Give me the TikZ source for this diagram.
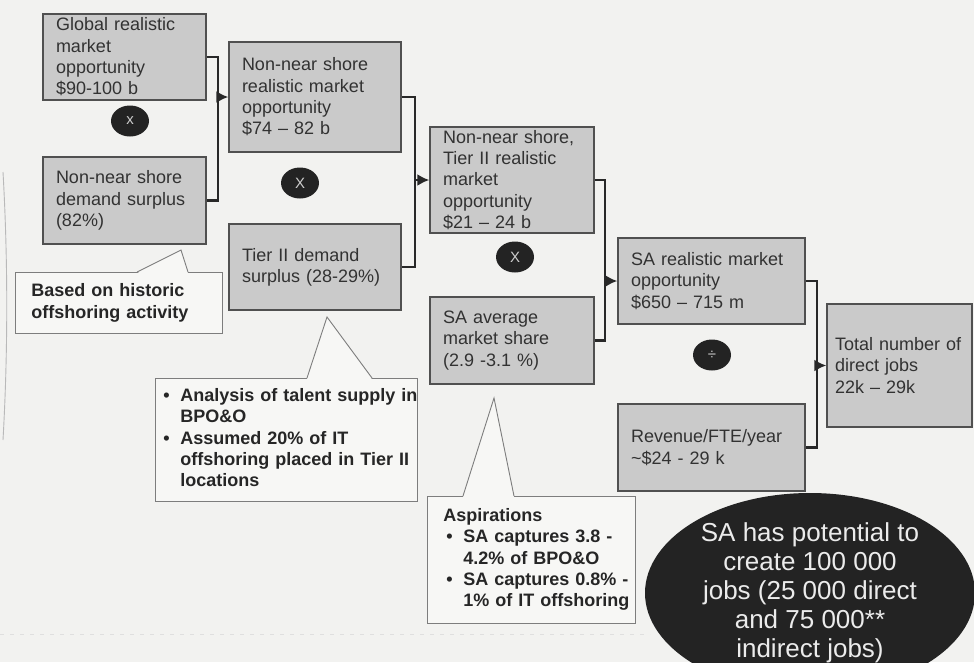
\documentclass[tikz,border=0pt]{standalone}
\usepackage{fontspec}
\setmainfont{Liberation Sans}
\usetikzlibrary{arrows.meta,shapes.geometric}
\definecolor{bgcol}{RGB}{242,242,240}
\definecolor{boxfill}{RGB}{202,202,202}
\definecolor{boxline}{RGB}{80,80,80}
\definecolor{linkcol}{RGB}{40,40,40}
\definecolor{boxtext}{RGB}{50,50,50}
\definecolor{notefill}{RGB}{247,247,245}
\definecolor{noteline}{RGB}{125,125,125}
\definecolor{opfill}{RGB}{35,35,35}

\begin{document}
\begin{tikzpicture}[x=1pt,y=-1pt]
			\tikzset{box/.style={rectangle, draw=boxline, line width=1.3pt, fill=boxfill, text=boxtext, align=left, inner xsep=13pt, inner ysep=0pt, font=\fontsize{18}{21.3}\selectfont}};
			\tikzset{note/.style={rectangle, draw=noteline, line width=0.9pt, fill=notefill, text=black!85, align=left, inner ysep=0pt, font=\bfseries\fontsize{18}{21.3}\selectfont}};
			\tikzset{noteedge/.style={draw=noteline, line width=0.9pt}};
			\tikzset{op/.style={ellipse, fill=opfill, text=white!80!black, minimum width=38pt, minimum height=31pt, inner sep=0pt, font=\fontsize{15}{15}\selectfont}};
			\tikzset{bubble/.style={ellipse, fill=opfill, text=white!92!black, minimum width=330pt, minimum height=200pt, inner sep=0pt, align=center, font=\fontsize{26}{29}\selectfont}};
			\tikzset{link/.style={draw=linkcol, line width=2.6pt}};
			\tikzset{arr/.style={link, -{Latex[length=12pt,width=12pt]}}};

			\useasboundingbox (0,0) rectangle (974,662);
			\fill[bgcol] (0,0) rectangle (974,662);
			\draw[gray!55, line width=0.9pt] (3,172) .. controls (8,260) and (8,352) .. (3,440);
			\draw[gray!25, line width=0.8pt, dash pattern=on 4pt off 6pt] (0,634) -- (650,634);

			\node[box, text width=137pt, minimum height=86pt] (glob) at (124.5,57) {Global realistic\\market\\opportunity\\\$90-100 b};
			\node[box, text width=137pt, minimum height=87pt] (nnsurp) at (124.5,200.5) {Non-near shore\\demand surplus\\(82\%)};
			\node[box, text width=146pt, minimum height=110pt] (nnsopp) at (315,97) {Non-near shore\\realistic market\\opportunity\\\$74 -- 82 b};
			\node[box, text width=146pt, minimum height=86pt] (tier) at (315,267) {Tier II demand\\surplus (28-29\%)};
			\node[box, text width=138pt, minimum height=106pt] (tieropp) at (512,180) {Non-near shore,\\Tier II realistic\\market\\opportunity\\\$21 -- 24 b};
			\node[box, text width=138pt, minimum height=87pt] (share) at (512,340.5) {SA average\\market share\\(2.9 -3.1 \%)};
			\node[box, text width=161pt, minimum height=86pt] (saopp) at (711.5,281) {SA realistic market\\opportunity\\\$650 -- 715 m};
			\node[box, text width=161pt, minimum height=87pt] (rev) at (711.5,447.5) {Revenue/FTE/year\\\textasciitilde\$24 - 29 k};
			\node[box, text width=129pt, inner xsep=8pt, minimum height=123pt] (jobs) at (899.5,365.5) {Total number of\\direct jobs\\22k -- 29k};

			\node[op] (op1) at (130,121) {x};
			\node[op] (op2) at (300,183) {X};
			\node[op] (op3) at (515,257) {X};
			\node[op] (op4) at (712,355) {÷};

			\coordinate (j1) at (218,97);
			\coordinate (j2) at (415,180);
			\coordinate (j3) at (605,281);
			\coordinate (j4) at (817,365.5);

			\draw[link] (glob.east) -| (j1) |- (nnsurp.east);
			\draw[arr] (j1) -- (nnsopp.west);
			\draw[link] (nnsopp.east) -| (j2) |- (tier.east);
			\draw[arr] (j2) -- (tieropp.west);
			\draw[link] (tieropp.east) -| (j3) |- (share.east);
			\draw[arr] (j3) -- (saopp.west);
			\draw[link] (saopp.east) -| (j4) |- (rev.east);
			\draw[arr] (j4) -- (jobs.west);

			\node[note, anchor=north west, text width=175pt, inner xsep=16pt, minimum height=61pt] (histnote) at (15,272) {Based on historic\\offshoring activity};
			\fill[notefill] (137,273.2) -- (181,250) -- (188,273.2) -- cycle;
			\draw[noteedge] (137,272) -- (181,250) -- (188,272);

			\node[note, anchor=north west, text width=258pt, inner xsep=2pt, minimum height=123pt] (talentnote) at (155,378) {\begin{tabular}{@{\hspace{6pt}}p{17pt}@{}l@{}}
				\textbullet & Analysis of talent supply in\\
				& BPO\&O\\
				\textbullet & Assumed 20\% of IT\\
				& offshoring placed in Tier II\\
				& locations
			\end{tabular}};
			\fill[notefill] (307,379.2) -- (327,317) -- (372,379.2) -- cycle;
			\draw[noteedge] (307,378) -- (327,317) -- (372,378);

			\node[note, anchor=north west, text width=204pt, inner xsep=2pt, minimum height=127pt] (aspnote) at (427,496) {\begin{tabular}{@{\hspace{14pt}}p{20pt}@{}l@{}}
				\multicolumn{2}{@{\hspace{14pt}}l@{}}{Aspirations}\\
				\hspace{3pt}\textbullet & SA captures 3.8 -\\
				& 4.2\% of BPO\&O\\
				\hspace{3pt}\textbullet & SA captures 0.8\% -\\
				& 1\% of IT offshoring
			\end{tabular}};
			\fill[notefill] (463,497.2) -- (494,398) -- (514,497.2) -- cycle;
			\draw[noteedge] (463,496) -- (494,398) -- (514,496);

			\node[bubble] (potential) at (810,593) {SA has potential to\\create 100 000\\jobs (25 000 direct\\and 75 000**\\indirect jobs)};
		\end{tikzpicture}
\end{document}
